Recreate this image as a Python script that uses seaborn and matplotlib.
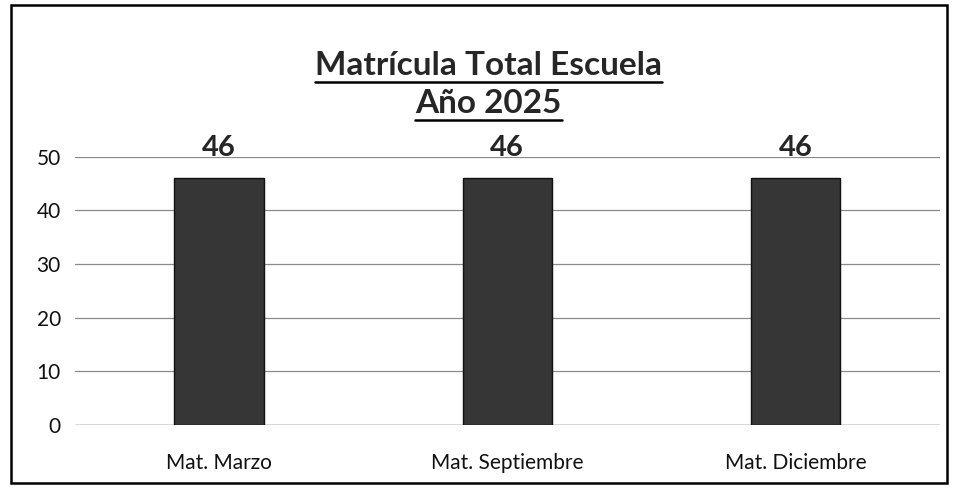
import matplotlib
matplotlib.use('Agg')
import matplotlib.pyplot as plt
from matplotlib.lines import Line2D
from matplotlib.patches import Rectangle
import pandas as pd
import seaborn as sns

categories = ['Mat. Marzo', 'Mat. Septiembre', 'Mat. Diciembre']
matricula = [46, 46, 46]
y_ticks = [0, 10, 20, 30, 40, 50]
title_lines = ['Matrícula Total Escuela', 'Año 2025']


def underline(fig, txt, renderer):
    '''
    Draw a line under a figure text (matplotlib has no underline style).
    '''
    bb = txt.get_window_extent(renderer).transformed(fig.transFigure.inverted())
    y = bb.y0 - 0.004
    fig.add_artist(Line2D([bb.x0, bb.x1], [y, y], color='black', lw=1.8))


def main():
    sns.set_style('white')
    plt.rcParams['font.family'] = ['Lato', 'DejaVu Sans']

    data = pd.DataFrame({'mes': categories, 'total': matricula})

    fig = plt.figure(figsize=(9.58, 4.9), dpi=100)
    ax = fig.add_axes([0.078, 0.133, 0.903, 0.547])

    sns.barplot(data=data, x='mes', y='total', color='#363636', width=0.31,
                edgecolor='#111111', linewidth=1, saturation=1, ax=ax, zorder=3)

    ax.set_ylim(0, 50)
    ax.set_yticks(y_ticks)
    ax.yaxis.grid(True, color='#8a8a8a', linewidth=0.9, zorder=0)
    ax.axhline(0, color='#7a7a7a', linewidth=1.0, zorder=1)
    ax.set_axisbelow(True)
    for s in ax.spines.values():
        s.set_visible(False)
    ax.tick_params(axis='both', length=0, labelsize=15, colors='#111111')
    ax.tick_params(axis='y', pad=10)
    ax.tick_params(axis='x', pad=20)
    ax.set_xlabel('')
    ax.set_ylabel('')

    for i, v in enumerate(matricula):
        ax.text(i, v + 3.2, str(v), ha='center', va='bottom', fontsize=21,
                fontweight='bold', clip_on=False)

    t1 = fig.text(0.51, 0.866, title_lines[0], ha='center', va='center',
                  fontsize=24, fontweight='bold')
    t2 = fig.text(0.51, 0.788, title_lines[1], ha='center', va='center',
                  fontsize=24, fontweight='bold')

    fig.canvas.draw()
    renderer = fig.canvas.get_renderer()
    underline(fig, t1, renderer)
    underline(fig, t2, renderer)

    # frame around the whole chart
    fig.add_artist(Rectangle((0.011, 0.014), 0.978, 0.975, transform=fig.transFigure,
                             fill=False, edgecolor='black', linewidth=1.8))

    fig.savefig('out.png', dpi=100)
    plt.close(fig)


if __name__ == '__main__':
    main()
